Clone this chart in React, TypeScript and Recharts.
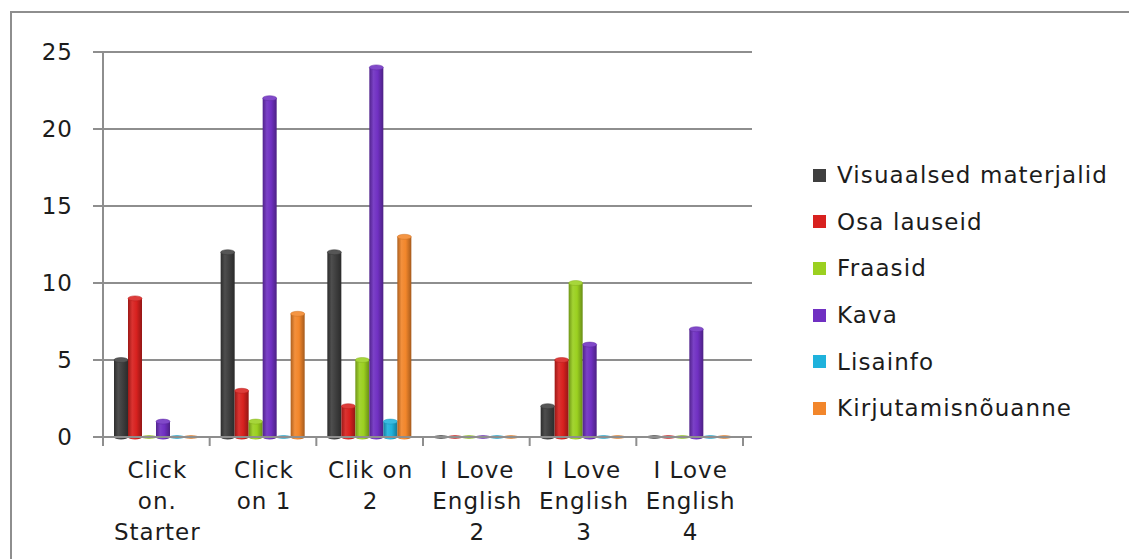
import React from 'react';
import { BarChart, Bar, XAxis, YAxis, CartesianGrid, Legend } from 'recharts';

const categories = ['Click\non.\nStarter', 'Click\non 1', 'Clik on\n2', 'I Love\nEnglish\n2', 'I Love\nEnglish\n3', 'I Love\nEnglish\n4'];
const seriesNames = ['Visuaalsed materjalid', 'Osa lauseid', 'Fraasid', 'Kava', 'Lisainfo', 'Kirjutamisnõuanne'];
const visuaalsed = [5, 12, 12, 0, 2, 0];
const osaLauseid = [9, 3, 2, 0, 5, 0];
const fraasid = [0, 1, 5, 0, 10, 0];
const kava = [1, 22, 24, 0, 6, 7];
const lisainfo = [0, 0, 1, 0, 0, 0];
const kirjutamis = [0, 8, 13, 0, 0, 0];
const yTicks = [0, 5, 10, 15, 20, 25];

const seriesValues = [visuaalsed, osaLauseid, fraasid, kava, lisainfo, kirjutamis];
const colors = ['#3f3f3f', '#d8211f', '#9bd020', '#7030c2', '#1fb2dc', '#f2862b'];
const keys = ['s0', 's1', 's2', 's3', 's4', 's5'];

const data = categories.map((c, i) => {
  const row: any = { name: c };
  keys.forEach((k, j) => { row[k] = seriesValues[j][i]; });
  return row;
});

const FONT = '"DejaVu Sans", sans-serif';
const TEXT = '#1c1c1c';
const GRID = '#8e8e8e';

const PLOT_LEFT = 103;
const PLOT_RIGHT = 743;
const BAND = (PLOT_RIGHT - PLOT_LEFT) / categories.length;

function shade(hex: string, f: number) {
  const n = parseInt(hex.slice(1), 16);
  let r = (n >> 16) & 255, g = (n >> 8) & 255, b = n & 255;
  const adj = (v: number) => {
    const o = f >= 1 ? v + (255 - v) * (f - 1) : v * f;
    return Math.max(0, Math.min(255, Math.round(o)));
  };
  return `rgb(${adj(r)},${adj(g)},${adj(b)})`;
}

const makeCylinder = (si: number) => (props: any) => {
  const { x, y, width, height, index } = props;
  const color = colors[si];
  const id = `cyl-${si}-${index}`;
  const rx = width / 2;
  const ry = 2.5;
  const h = Math.max(0, height || 0);
  return (
    <g>
      <defs>
        <linearGradient id={id} x1="0" y1="0" x2="1" y2="0">
          <stop offset="0%" stopColor={shade(color, 0.72)} />
          <stop offset="30%" stopColor={shade(color, 1.08)} />
          <stop offset="60%" stopColor={color} />
          <stop offset="100%" stopColor={shade(color, 0.68)} />
        </linearGradient>
      </defs>
      {h > 0 && <rect x={x} y={y} width={width} height={h} fill={`url(#${id})`} />}
      {h > 0 && <ellipse cx={x + rx} cy={y + h} rx={rx} ry={ry} fill={`url(#${id})`} />}
      <ellipse cx={x + rx} cy={y} rx={rx} ry={h > 0 ? ry : 1.5} fill={shade(color, h > 0 ? 1.12 : 1.0)} stroke={shade(color, 0.85)} strokeWidth={0.5} />
    </g>
  );
};

const XTick = (props: any) => {
  const { x, y, payload, index } = props;
  const lines = String(payload.value).split('\n');
  return (
    <g>
      <line x1={x - BAND / 2} y1={y} x2={x - BAND / 2} y2={y + 9} stroke={GRID} strokeWidth={2} />
      {index === categories.length - 1 && (
        <line x1={x + BAND / 2} y1={y} x2={x + BAND / 2} y2={y + 9} stroke={GRID} strokeWidth={2} />
      )}
      {lines.map((l, i) => (
        <text key={i} x={x + 1} y={y + 33 + i * 31} textAnchor="middle" dominantBaseline="central"
          fontFamily={FONT} fontSize={23} letterSpacing={1} fill={TEXT}>{l}</text>
      ))}
    </g>
  );
};

const LegendContent = () => (
  <div style={{ fontFamily: FONT, fontSize: 23, letterSpacing: 1.1, color: TEXT }}>
    {seriesNames.map((n, i) => (
      <div key={n} style={{ height: 46.6, display: 'flex', alignItems: 'center', whiteSpace: 'nowrap' }}>
        <span style={{ display: 'inline-block', width: 13, height: 13, background: colors[i], marginRight: 11 }} />
        <span>{n}</span>
      </div>
    ))}
  </div>
);

export default function App() {
  return (
    <div style={{ position: 'absolute', left: 0, top: 0, width: 1129, height: 559, overflow: 'hidden', background: '#fff' }}>
      <div style={{ position: 'absolute', left: 10, top: 11, width: 1200, height: 700, borderTop: `2px solid ${GRID}`, borderLeft: `2px solid ${GRID}` }} />
      <div style={{ position: 'absolute', left: 0, top: 0 }}>
        <BarChart width={1129} height={559} data={data} margin={{ top: 52, right: 377, bottom: 12, left: 23 }} barSize={14} barGap={0}>
          <CartesianGrid vertical={false} stroke={GRID} strokeWidth={2} />
          <XAxis dataKey="name" interval={0} height={110} tickSize={0} tickMargin={0} tickLine={false}
            padding={{ left: 0, right: 9 }} axisLine={{ stroke: GRID, strokeWidth: 2 }} tick={<XTick />} />
          <YAxis width={80} domain={[0, 25]} ticks={yTicks} interval={0} tickSize={10} tickMargin={20}
            axisLine={{ stroke: GRID, strokeWidth: 2 }} tickLine={{ stroke: GRID, strokeWidth: 2 }}
            tick={{ fontFamily: FONT, fontSize: 23, letterSpacing: 1, fill: TEXT }} />
          <Legend layout="vertical" align="center" verticalAlign="middle" content={<LegendContent />}
            wrapperStyle={{ position: 'absolute', left: 813, top: 152, width: 316, height: 280 }} />
          {keys.map((k, i) => (
            <Bar key={k} dataKey={k} name={seriesNames[i]} fill={colors[i]} isAnimationActive={false} shape={makeCylinder(i)} />
          ))}
        </BarChart>
      </div>
    </div>
  );
}
